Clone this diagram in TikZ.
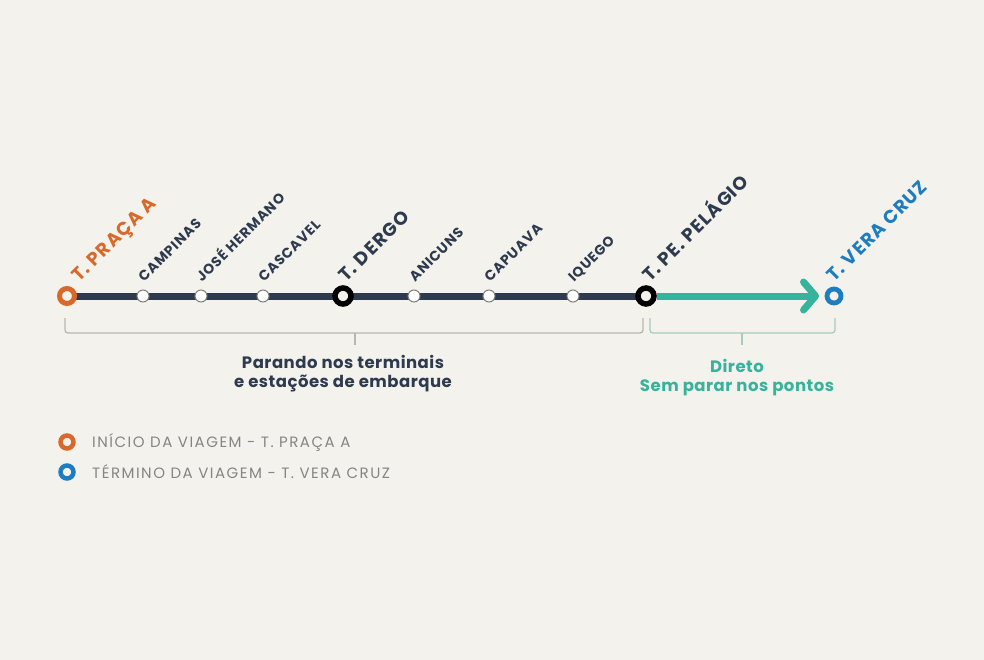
\documentclass[tikz,border=0pt]{standalone}
\usepackage{fontspec}
\setmainfont{Poppins}
\newfontfamily\trkfont[LetterSpace=6]{Poppins}
\newfontfamily\legfont[LetterSpace=10]{Poppins}
\newfontfamily\capfont[LetterSpace=3]{Poppins}
\usetikzlibrary{arrows.meta}
\definecolor{bgc}{HTML}{F3F2EC}
\definecolor{navy}{HTML}{2E3B4E}
\definecolor{orng}{HTML}{D8692B}
\definecolor{blu}{HTML}{1E7CC0}
\definecolor{teal1}{HTML}{36B39C}
\definecolor{brkgray}{HTML}{B8B8B0}
\definecolor{brkteal}{HTML}{A6CBBF}
\definecolor{leggray}{HTML}{858585}
\pgfdeclarelayer{back}
\pgfdeclarelayer{mid}
\pgfsetlayers{back,mid,main}
\begin{document}
\begin{tikzpicture}[x=1pt,y=-1pt,
  term/.style={circle, draw=black, line width=5.5pt, fill=bgc, minimum size=16pt, inner sep=0pt},
  smallst/.style={circle, draw=gray, line width=1pt, fill=white, minimum size=12pt, inner sep=0pt},
  orring/.style={circle, draw=orng, line width=5pt, fill=bgc, minimum size=15pt, inner sep=0pt},
  bluring/.style={circle, draw=blu, line width=4.8pt, fill=bgc, minimum size=14pt, inner sep=0pt},
  tlbl/.style={rotate=45, anchor=base west, inner sep=0pt, font=\trkfont\bfseries\fontsize{18.5}{18.5}\selectfont, text=navy},
  slbl/.style={rotate=45, anchor=base west, inner sep=0pt, font=\trkfont\bfseries\fontsize{14}{14}\selectfont, text=navy},
  brk/.style={draw=brkgray, line width=1.3pt, rounded corners=3pt},
  brkt/.style={draw=brkteal, line width=1.3pt, rounded corners=3pt},
  captxt/.style={align=center, font=\capfont\bfseries\fontsize{16.5}{19}\selectfont, inner sep=0pt},
  legtxt/.style={anchor=west, inner sep=0pt, text=leggray, font=\legfont\fontsize{15}{15}\selectfont}
]
\begin{pgfonlayer}{back}
\fill[bgc] (0,0) rectangle (984,660);
\end{pgfonlayer}
\useasboundingbox (0,0) rectangle (984,660);

% stations
\node[orring] (s0) at (67,296) {};
\node[smallst] (s1) at (143,296) {};
\node[smallst] (s2) at (201,296) {};
\node[smallst] (s3) at (263,296) {};
\node[term] (s4) at (343,296) {};
\node[smallst] (s5) at (414,296) {};
\node[smallst] (s6) at (489,296) {};
\node[smallst] (s7) at (573,296) {};
\node[term] (s8) at (646,296) {};
\node[bluring] (s9) at (834,296) {};

\begin{pgfonlayer}{mid}
\draw[navy, line width=7pt] (s0.center) -- (s8.center);
\end{pgfonlayer}
\draw[teal1, line width=7pt, shorten <=11pt, shorten >=15pt,
  -{Straight Barb[length=12pt,width=28pt,line cap=round,line join=round]}] (s8.center) -- (s9.center);

% labels
\node[tlbl, text=orng] (l0) at (79,283) {T. PRAÇA A};
\node[slbl] (l1) at (144,283) {CAMPINAS};
\node[slbl] (l2) at (202,283) {JOSÉ HERMANO};
\node[slbl] (l3) at (264,283) {CASCAVEL};
\node[tlbl] (l4) at (346,283) {T. DERGO};
\node[slbl] (l5) at (415,283) {ANICUNS};
\node[slbl] (l6) at (490,283) {CAPUAVA};
\node[slbl] (l7) at (574,283) {IQUEGO};
\node[tlbl] (l8) at (650,283) {T. PE. PELÁGIO};
\node[tlbl, text=blu] (l9) at (834,283) {T. VERA CRUZ};

% brackets
\draw[brk] (65,318) -- (65,333) -- (643,333) -- (643,318);
\draw[brk, rounded corners=0pt] (355,333) -- (355,345);
\draw[brkt] (650,318) -- (650,333) -- (835,333) -- (835,318);
\draw[brkt, rounded corners=0pt] (742,333) -- (742,345);

\node[captxt, text=navy] (c1) at (343,374) {Parando nos terminais\\e estações de embarque};
\node[captxt, text=teal1] (c2) at (737,378) {Direto\\Sem parar nos pontos};

% legend
\node[orring, minimum size=13pt, line width=4.5pt] (g1) at (67,442) {};
\node[legtxt] (t1) at (92,442) {INÍCIO DA VIAGEM - T. PRAÇA A};
\node[bluring, minimum size=13pt, line width=4.5pt] (g2) at (67,472) {};
\node[legtxt] (t2) at (92,472) {TÉRMINO DA VIAGEM - T. VERA CRUZ};
\end{tikzpicture}
\end{document}
